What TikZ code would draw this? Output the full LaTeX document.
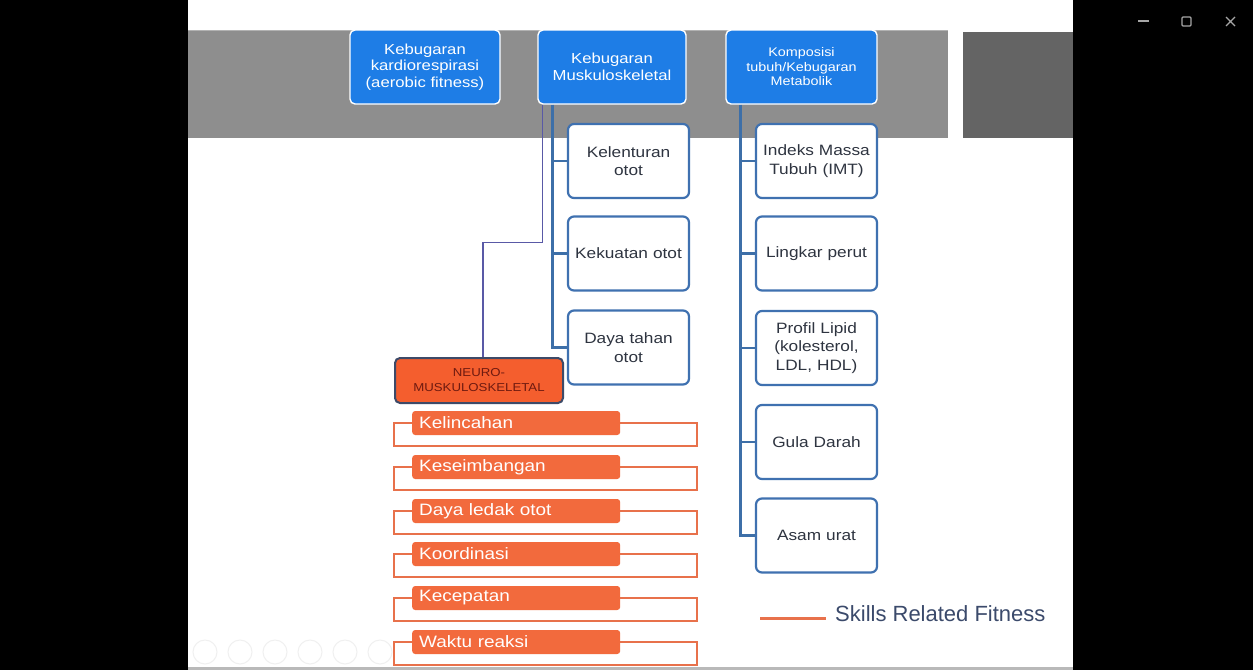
\documentclass[tikz,border=0pt]{standalone}
\usepackage{fontspec}
\setmainfont{Liberation Sans}
\newfontfamily\widesans[FakeStretch=1.15]{Liberation Sans}
\usetikzlibrary{calc}
\definecolor{topblue}{HTML}{1E7DE6}
\definecolor{edgeblue}{HTML}{3F71B0}
\definecolor{linkblue}{HTML}{3D6FA8}
\definecolor{skill}{HTML}{F26A3D}
\definecolor{skillline}{HTML}{E8714B}
\definecolor{neurofill}{HTML}{F45E2E}
\definecolor{neuroedge}{HTML}{3D4A68}
\definecolor{neurotext}{HTML}{6E1A10}
\definecolor{bandgray}{HTML}{8E8E8E}
\definecolor{darkblock}{HTML}{646464}
\definecolor{legendtext}{HTML}{3B4A6B}
\definecolor{itemtext}{HTML}{2E3440}
\tikzset{
  headbox/.style={draw=white, line width=1.4pt, fill=topblue, rounded corners=5pt,
    minimum height=74pt, text=white, align=center, inner sep=2pt,
    font=\widesans\fontsize{14.5}{16.7}\selectfont},
  itembox/.style={draw=edgeblue, line width=2.2pt, fill=white, rounded corners=6pt,
    minimum width=121pt, minimum height=74pt, text=itemtext, align=center,
    text width=117pt, inner sep=1pt, font=\widesans\fontsize{15}{18.3}\selectfont},
  skillbar/.style={fill=skill, rounded corners=3pt, minimum width=208pt,
    minimum height=24pt, text=white, anchor=west, align=left, text width=194pt,
    inner xsep=7pt, inner ysep=0pt, font=\widesans\fontsize{16.5}{18}\selectfont},
  bracketline/.style={draw=skillline, line width=2.4pt},
  trunk/.style={draw=linkblue, line width=2.6pt},
  feeder/.style={draw=gray!70!blue, line width=1.4pt},
  winctl/.style={draw=gray!70, line width=1.1pt},
  toolring/.style={draw=gray!12, line width=1pt}
}
\begin{document}
\begin{tikzpicture}[x=1pt, y=-1pt]
  % page and slide backdrop
  \fill[black] (0,0) rectangle (1253,670);
  \useasboundingbox (0,0) rectangle (1253,670);
  \fill[white] (188,0) rectangle (1073,667);
  \fill[gray!55] (188,667) rectangle (1073,670);
  \fill[bandgray] (188,30) rectangle (948,138);
  \draw[gray!60, line width=0.6pt] (188,30) -- (948,30);
  \fill[darkblock] (963,32) rectangle (1073,138);

  % window controls
  \draw[winctl] (1138,21) -- (1149,21);
  \draw[winctl, rounded corners=1pt] (1182,17) rectangle (1191,26);
  \draw[winctl] (1226,17) -- (1235,26) (1226,26) -- (1235,17);

  % presentation toolbar (faint)
  \foreach \cx in {205,240,275,310,345,380}
    \draw[toolring] (\cx,652) circle (12);

  % heading boxes
  \node[headbox, minimum width=150pt] (b1) at (425,67)
    {Kebugaran\\kardiorespirasi\\(aerobic fitness)};
  \node[headbox, minimum width=148pt] (b2) at (612,67)
    {Kebugaran\\Muskuloskeletal};
  \node[headbox, minimum width=151pt, font=\widesans\fontsize{12.5}{14.5}\selectfont] (b3) at (801.5,67)
    {Komposisi\\tubuh/Kebugaran\\Metabolik};

  % musculoskeletal column
  \node[itembox] (m1) at (628.5,161) {Kelenturan\\otot};
  \node[itembox] (m2) at (628.5,253.5) {Kekuatan otot};
  \node[itembox] (m3) at (628.5,347.5) {Daya tahan\\otot};

  % metabolic column
  \node[itembox] (r1) at (816.5,161) {Indeks Massa\\Tubuh (IMT)};
  \node[itembox] (r2) at (816.5,253.5) {Lingkar perut};
  \node[itembox] (r3) at (816.5,348) {Profil Lipid\\(kolesterol,\\LDL, HDL)};
  \node[itembox] (r4) at (816.5,442) {Gula Darah};
  \node[itembox] (r5) at (816.5,535.5) {Asam urat};

  % neuromuscular heading
  \node[draw=neuroedge, line width=2pt, fill=neurofill, rounded corners=5pt,
        minimum width=168pt, minimum height=45pt, align=center, text=neurotext,
        inner sep=1pt, font=\widesans\fontsize{11.5}{15}\selectfont] (nm) at (479,380.5)
    {NEURO-\\MUSKULOSKELETAL};

  % trunks from the heading boxes
  \coordinate (t2) at ($(b2.south west)+(15,0)$);
  \coordinate (t3) at ($(b3.south west)+(15,0)$);
  \coordinate (f2) at ($(b2.south west)+(5,0)$);
  \draw[feeder] (f2) -- ++(0,138) -| ($(nm.north)+(4,0)$);
  \draw[trunk] (t2) |- (m3.west);
  \draw[trunk] (t2 |- m1.west) -- (m1.west);
  \draw[trunk] (t2 |- m2.west) -- (m2.west);
  \draw[trunk] (t3) |- (r5.west);
  \foreach \n in {r1,r2,r3,r4}
    \draw[trunk] (t3 |- \n.west) -- (\n.west);

  % skill-related items with their brackets
  \foreach \name/\yy/\txt in {s1/423/Kelincahan, s2/467/Keseimbangan,
      s3/511/Daya ledak otot, s4/554/Koordinasi, s5/598/Kecepatan,
      s6/642/Waktu reaksi} {
    \node[skillbar] (\name) at (412,\yy) {\txt};
    \draw[bracketline] (\name.west) -- ++(-18,0) -- ++(0,23) -- ++(303,0)
      -- ++(0,-23) -- (\name.east);
  }

  % legend
  \node[anchor=west, text=legendtext, font=\fontsize{22}{24}\selectfont, inner sep=0pt]
    (leg) at (835,614) {Skills Related Fitness};
  \draw[bracketline, line width=3pt] ($(leg.west)+(-75,4)$) -- ($(leg.west)+(-9,4)$);
\end{tikzpicture}
\end{document}
